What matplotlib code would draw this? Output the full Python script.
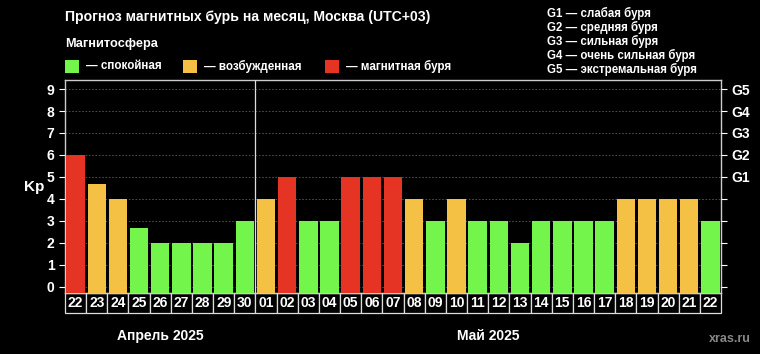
"""Magnetic storm forecast bar chart (Kp index)."""

import matplotlib
matplotlib.use("Agg")
import matplotlib.pyplot as plt
import matplotlib.transforms as mtransforms
from matplotlib.patches import Rectangle
import numpy as np

plt.rcParams["font.family"] = ["Liberation Sans", "DejaVu Sans"]
plt.rcParams["font.weight"] = "bold"

# data
days = ["22", "23", "24", "25", "26", "27", "28", "29", "30",
        "01", "02", "03", "04", "05", "06", "07", "08", "09", "10",
        "11", "12", "13", "14", "15", "16", "17", "18", "19", "20",
        "21", "22"]
kp = [6, 4.67, 4, 2.67, 2, 2, 2, 2, 3,
      4, 5, 3, 3, 5, 5, 5, 4, 3, 4,
      3, 3, 2, 3, 3, 3, 3, 4, 4, 4,
      4, 3]
months = ["Апрель 2025", "Май 2025"]
month_lengths = [9, 22]
g_levels = ["G1", "G2", "G3", "G4", "G5"]
g_names = ["слабая буря", "средняя буря", "сильная буря",
           "очень сильная буря", "экстремальная буря"]
state_labels = ["спокойная", "возбужденная", "магнитная буря"]

GREEN = "#74f54b"
YELLOW = "#f4c144"
RED = "#e63424"
state_colors = [GREEN, YELLOW, RED]


def bar_color(v):
    if v >= 5:
        return RED
    if v >= 4:
        return YELLOW
    return GREEN


fig = plt.figure(figsize=(7.6, 3.54), dpi=100, facecolor="black")
ax = fig.add_axes([0.0855, 0.1723, 0.8632, 0.6003], facecolor="black")

ymin, ymax = -0.29, 9.39
x = np.arange(len(days))
ax.bar(x, np.array(kp) - ymin, bottom=ymin, width=0.87,
       color=[bar_color(v) for v in kp], zorder=3)

ax.set_xlim(-0.5, len(days) - 0.5)
ax.set_ylim(ymin, ymax)
ax.set_yticks(range(10))
ax.tick_params(axis="y", colors="white", labelsize=10, length=4, width=0.8)
ax.set_xticks([])
for lab in ax.get_yticklabels():
    lab.set_fontweight("bold")
ax.grid(axis="y", color="#5a5a5a", linestyle=(0, (2, 2)), linewidth=0.6, zorder=0)
for s in ax.spines.values():
    s.set_color("#cccccc")
    s.set_linewidth(1)

ax.set_ylabel("Kp", color="white", fontsize=11, fontweight="bold",
              rotation=0, labelpad=9, va="center")

# right axis with G levels
ax2 = ax.twinx()
ax2.set_ylim(ymin, ymax)
ax2.set_yticks(range(10))
ax2.set_yticklabels([""] * 5 + g_levels)
ax2.tick_params(axis="y", colors="white", labelsize=10, length=4, width=0.8)
for lab in ax2.get_yticklabels():
    lab.set_fontweight("bold")
for s in ax2.spines.values():
    s.set_visible(False)

# month separators
bounds = np.cumsum(month_lengths)[:-1]
for b in bounds:
    ax.axvline(b - 0.5, color="#dddddd", linewidth=0.9, zorder=4)

# date cells under the axis
trans = mtransforms.blended_transform_factory(ax.transData, ax.transAxes)
cell_h = 0.094
for i, d in enumerate(days):
    ax.add_patch(Rectangle((i - 0.5, -cell_h), 1, cell_h, transform=trans,
                           facecolor="black", edgecolor="#dddddd",
                           linewidth=0.9, clip_on=False))
    ax.text(i, -cell_h / 2, d, transform=trans, ha="center", va="center",
            color="white", fontsize=10, fontweight="bold")

# month labels
start = 0
for name, n in zip(months, month_lengths):
    ax.text(start + n / 2 - 0.5, -0.2, name, transform=trans, ha="center",
            va="center", color="white", fontsize=10, fontweight="bold")
    start += n

# header texts
W, H = 760, 354
def fx(px):
    return px / W
def fy(py):
    return 1 - py / H

fig.text(fx(65), fy(17), "Прогноз магнитных бурь на месяц, Москва (UTC+03)",
         color="white", fontsize=10.1, fontweight="bold", va="center")
fig.text(fx(65), fy(44), "Магнитосфера", color="white", fontsize=9.2,
         fontweight="bold", va="center")

sq_x = [65, 183, 325]
for sx, col, lab in zip(sq_x, state_colors, state_labels):
    fig.patches.append(Rectangle((fx(sx), fy(73)), 14 / W, 13 / H,
                                 transform=fig.transFigure, facecolor=col,
                                 edgecolor="none"))
    fig.text(fx(sx + 21), fy(66), "— " + lab, color="white", fontsize=8.4,
             fontweight="bold", va="center")

for k, (g, nm) in enumerate(zip(g_levels, g_names)):
    fig.text(fx(547), fy(13 + 14 * k), f"{g} — {nm}", color="white",
             fontsize=8.3, fontweight="bold", va="center")

fig.text(fx(730), fy(339), "xras.ru", color="#888888", fontsize=9,
         ha="center", va="center")

fig.savefig("out.png", dpi=100, facecolor="black")
